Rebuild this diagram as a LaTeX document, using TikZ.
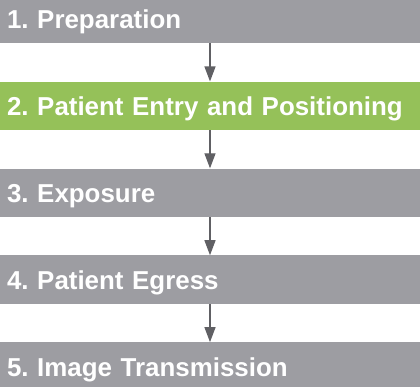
\documentclass[tikz,border=0pt]{standalone}
\usepackage{fontspec}
\setmainfont{Liberation Sans}
\usepackage{tikz}
\usetikzlibrary{arrows.meta,positioning}
\definecolor{stepgray}{RGB}{157,157,162}
\definecolor{stepgreen}{RGB}{149,193,89}
\definecolor{arrowgray}{RGB}{96,96,100}
\frenchspacing

\begin{document}
\begin{tikzpicture}[
    x=1pt, y=1pt,
    font=\fontsize{25.9}{30}\selectfont\bfseries\frenchspacing,
    node distance=38pt,
    stage/.style={fill=stepgray, text=white, minimum width=420pt, minimum height=48.5pt, text width=406pt, inner xsep=7pt, inner ysep=0pt, align=left, text height=19pt, text depth=0pt}
]
\useasboundingbox (0,0) rectangle (420,-387);
\clip (0,0) rectangle (420,-387);
\node[stage] (prep) at (210,-19) {1. Preparation};
\node[stage, below=of prep, fill=stepgreen] (entry) {2. Patient Entry and Positioning};
\node[stage, below=of entry] (expo) {3. Exposure};
\node[stage, below=of expo] (egress) {4. Patient Egress};
\node[stage, below=of egress] (trans) {5. Image Transmission};

\foreach \a/\b in {prep/entry, entry/expo, expo/egress, egress/trans}
  \draw[-{Triangle[length=15pt, width=11pt]}, line width=1.2pt, draw=arrowgray, fill=arrowgray] (\a.south) -- (\b.north);
\end{tikzpicture}
\end{document}
